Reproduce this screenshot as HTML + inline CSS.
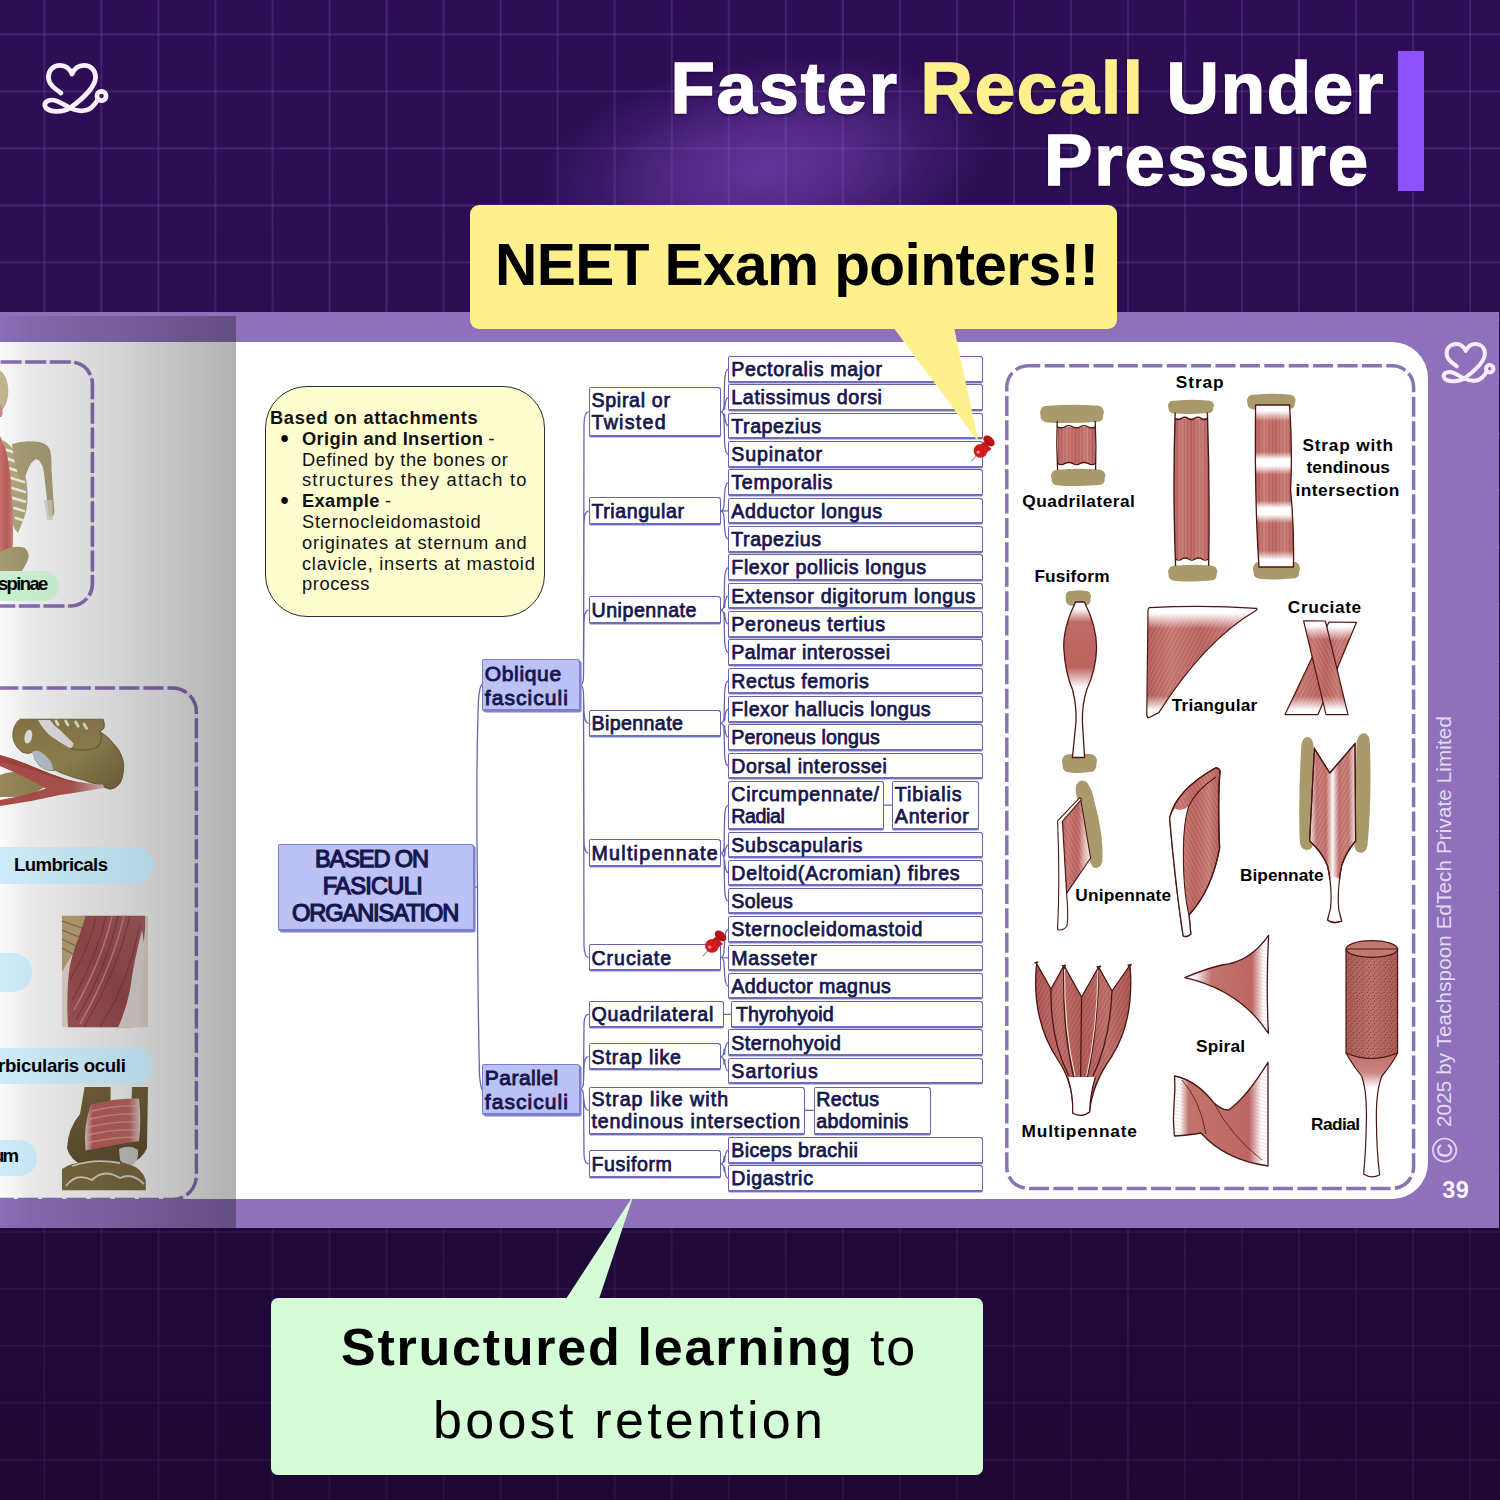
<!DOCTYPE html>
<html lang="en"><head><meta charset="utf-8"><title>Faster Recall Under Pressure</title>
<style>
html,body{margin:0;padding:0}
body{width:1500px;height:1500px;overflow:hidden;position:relative;background:#2c0d52;font-family:"Liberation Sans",sans-serif;font-weight:bold;color:#000}
.a{position:absolute}
.t{position:absolute;white-space:nowrap;line-height:1}
#bg{left:0;top:0;width:1500px;height:1500px;background:linear-gradient(180deg,#2e0d56 0%,#2c0d51 20%,#200939 82%,#1d0834 100%)}
#glow{left:535px;top:58px;width:460px;height:220px;background:radial-gradient(ellipse closest-side,rgba(114,66,174,.74) 0%,rgba(108,60,168,.6) 38%,rgba(98,54,158,.3) 70%,rgba(90,50,150,0) 100%);transform:rotate(-8deg)}
#grid{left:0;top:0;width:1500px;height:1500px;
background-image:linear-gradient(90deg,rgba(140,100,200,.24) 0,rgba(140,100,200,.24) 2px,transparent 2px),linear-gradient(180deg,rgba(140,100,200,.24) 0,rgba(140,100,200,.24) 2px,transparent 2px);
background-size:57.045px 57.03px;background-position:43.4px 33.4px;-webkit-mask-image:linear-gradient(180deg,#000 0%,#000 18%,rgba(0,0,0,.5) 85%,rgba(0,0,0,.45) 100%);mask-image:linear-gradient(180deg,#000 0%,#000 18%,rgba(0,0,0,.5) 85%,rgba(0,0,0,.45) 100%)}
#band{left:0;top:312px;width:1499.2px;height:916.4px;background:#8f70bb}
#page{left:0;top:341.7px;width:1428px;height:857.3px;background:#fff;border-radius:0 36px 36px 0}
#lshade{left:0;top:316px;width:236px;height:912.4px;background:linear-gradient(90deg,rgba(0,0,0,.02) 0%,rgba(0,0,0,.085) 13%,rgba(0,0,0,.15) 42%,rgba(0,0,0,.3) 100%)}
.mb{position:absolute;box-sizing:border-box;border:1.5px solid #6565ab;border-bottom:2px solid #6e6fb8;border-radius:2px 3px 2px 2px;background:#fff;box-shadow:0 .8px 0 rgba(120,122,200,.6)}
.mf{background:#bcc1f6;border-color:#7c7ed0;box-shadow:1.6px 1.6px 0 #7f81d2}
.mt{color:#16164d}
svg{position:absolute;left:0;top:0;overflow:visible}
</style></head>
<body>
<div id="bg" class="a"></div><div id="glow" class="a"></div><div id="grid" class="a"></div>
<!-- sec_header -->
<svg width="1500" height="1500" viewBox="0 0 1500 1500"><g transform="translate(0 0) scale(1)" fill="none" stroke="#faf0ff" stroke-width="4.7" stroke-linecap="round" stroke-linejoin="round"><path d="M61 93 C54 88 48.4 84 48.4 77 C48.4 69.6 54 65.4 60 65.4 C66 65.4 70 69.4 72 74 C74 69.4 78 65.4 84 65.4 C90 65.4 95.6 69.6 95.6 77 C95.6 86 84 98 70 108 C62 113 50 112 46 108 C43 104 46 100 52 100 C58 100 64 105 70 108 C78 112 88 112 93 106 C96 103 97 101 98 99"/><circle cx="101.5" cy="96" r="4.6"/></g></svg>
<div class="t" style="left:670.4px;top:52.3px;font-size:72.6px;color:#fff;letter-spacing:1.72px;-webkit-text-stroke-width:1.5px;text-shadow:0 2px 3px rgba(30,5,60,.8),0 0 3px rgba(30,5,60,.8);">Faster <span style="color:#fff08f">Recall</span> Under</div>
<div class="t" style="left:1043.9px;top:123.5px;font-size:72.6px;color:#fff;letter-spacing:1.93px;-webkit-text-stroke-width:1.5px;text-shadow:0 2px 3px rgba(30,5,60,.8),0 0 3px rgba(30,5,60,.8);">Pressure</div>
<div class="a" style="left:1397.5px;top:50.7px;width:26.6px;height:140.8px;background:#8c52ff"></div>
<!-- sec_page -->
<div id="band" class="a"></div><div id="page" class="a"></div>
<!-- sec_left -->
<svg width="1500" height="1500" viewBox="0 0 1500 1500"><defs>
<linearGradient id="lm1" x1="0" y1="0" x2="1" y2="0"><stop offset="0" stop-color="#cc7470"/><stop offset=".5" stop-color="#ba5c5a"/><stop offset="1" stop-color="#d0827c"/></linearGradient>
<linearGradient id="lm2" x1="1" y1="0" x2="0" y2="1"><stop offset="0" stop-color="#b26466"/><stop offset=".5" stop-color="#9c4c4f"/><stop offset="1" stop-color="#a85a5c"/></linearGradient>
<linearGradient id="lm3" x1="0" y1="0" x2="1" y2="0"><stop offset="0" stop-color="#b04c4a"/><stop offset=".7" stop-color="#b95c58"/><stop offset="1" stop-color="#e6c6c0"/></linearGradient>
<linearGradient id="lm4" x1="0" y1="0" x2="1" y2="0"><stop offset="0" stop-color="#e8d2cc"/><stop offset=".14" stop-color="#c0605e"/><stop offset=".8" stop-color="#c46a66"/><stop offset="1" stop-color="#ead6d0"/></linearGradient>
<linearGradient id="pel" x1="0" y1="0" x2="1" y2="1"><stop offset="0" stop-color="#8a7945"/><stop offset=".55" stop-color="#9d8c59"/><stop offset="1" stop-color="#7d6c3e"/></linearGradient>
<linearGradient id="ank" x1="0" y1="0" x2="0" y2="1"><stop offset="0" stop-color="#7b6741"/><stop offset="1" stop-color="#62502f"/></linearGradient>
<clipPath id="lclip"><rect x="0" y="342" width="236" height="857"/></clipPath>
<clipPath id="mclip"><rect x="62" y="915.6" width="86" height="112"/></clipPath>
<clipPath id="aclip"><rect x="62" y="1087" width="86" height="103.6"/></clipPath>
</defs>
<g clip-path="url(#lclip)"><rect x="-40" y="362" width="132.4" height="244" rx="22" fill="none" stroke="#f3ecfb" stroke-width="3.6" opacity=".8"/>
<rect x="-40" y="362" width="132.4" height="244" rx="22" fill="none" stroke="#8c72b8" stroke-width="3.6" stroke-dasharray="21 3.6" stroke-dashoffset="6"/>
<rect x="-40" y="688" width="236.4" height="511.5" rx="24" fill="none" stroke="#f3ecfb" stroke-width="3.4" opacity=".8"/>
<rect x="-40" y="688" width="236.4" height="511.5" rx="24" fill="none" stroke="#8c72b8" stroke-width="3.4" stroke-dasharray="20 4.2" stroke-dashoffset="10"/>
<ellipse cx="-3.5" cy="391" rx="11.8" ry="21.5" fill="#c2b990"/>
<path d="M0 404 Q4.5 410 1.5 417 L0 417 Z" fill="#d08c88"/>
<path d="M3 440 Q16 448 24 470 Q30 492 26 512 Q22 524 18 533 Q12 528 10 512 Q6 480 3 440 Z" fill="#b5aa7e"/>
<path d="M7 450 l9 3 M8.6 459 l11 4 M10 468.5 l12.6 4 M11 478 l13 4 M12 488 l13 4 M13 498 l12 3.6 M14.4 508 l9.6 3 M16 518 l6 2" stroke="#f6f2e6" stroke-width="2.7" stroke-linecap="round" fill="none"/>
<path d="M12 444 Q22 440.6 34 441.6 Q46 442 49.6 449 Q52 456 51.4 468 Q53 495 54.4 512 Q53 519 49 516 Q46 490 43.6 470 Q41 460 36 459 Q30 462 27 472 Q24 480 21 480 Q15 470 12 444 Z" fill="#ada279"/>
<path d="M44 500 Q46 510 47 520 L52.6 520 Q53 510 52 500 Z" fill="#d9d6c8" opacity=".8"/>
<path d="M0 436 Q7.6 450 10.6 478 Q14 520 12.6 552 L0 554 Z" fill="url(#lm1)"/>
<path d="M0 552 Q14 544 25 548 Q31 554 27 562 Q24 568 22 571 L0 571 Z" fill="#a89d72"/>
<path d="M20 719.2 L103.3 719.2 Q105 724 104 728.3 L100 731.7 Q108 736 113.3 743.3 Q120 750 122.5 758.3 Q124.6 765 123.3 772 Q122.6 779 120 783.3 Q116 789 110 789.2 Q105 788 100 785 Q90 783 83.3 780 Q74 778 66.7 775 Q60 773 55 770 Q48 772 40 766 Q34 760 33 752 Q28 755 22 752 Q15 747 13 738 Q11.6 726 20 719.2 Z" fill="url(#pel)" stroke="#6a5a33" stroke-width=".8"/>
<path d="M38 720 L50 720 Q54 726 60 730 Q68 738 73.6 743.4 Q72.6 748 70 748.3 Q60 743 50 735.6 Q42 728 38 720 Z" fill="#ebebea"/>
<ellipse cx="28.3" cy="736.6" rx="3.8" ry="7" fill="#ebebea" transform="rotate(12 28.3 736.6)"/>
<path d="M56 721 l2 3.6 M65.6 721 l2.4 4 M75.6 722 l2.6 4.4 M84 724 l2.6 4.4" stroke="#f0ede2" stroke-width="2.8" stroke-linecap="round"/>
<path d="M70 748.3 Q85 752 96 748 Q104 742 100 731.7" fill="none" stroke="#6e5e37" stroke-width="1.2" opacity=".8"/>
<path d="M32 752 Q38 748 46 756 Q54 764 53 770 Q46 772 40 766 Q34 760 32 752 Z" fill="#bfc9d4"/>
<path d="M0 775 Q10 771 17 772.5 Q30 777 38 781.7 Q44 785 45 787 Q36 793 25 796.7 L0 797 Z" fill="#9a8a59"/>
<path d="M0 755 Q18 760 33 766.7 Q50 774 66.7 779.4 Q85 784 103 784.6 L104 788 Q80 792 60 795 Q30 802 0 806 L0 800 Q25 796 46 788.6 Q28 778 0 766 Z" fill="url(#lm3)"/>
<path d="M0 755 Q18 760 33 766.7 Q50 774 66.7 779.4 Q80 783 92 784 Q70 782 50 776 Q25 767 0 762 Z" fill="#a54442"/>
<g clip-path="url(#mclip)"><rect x="62" y="915.6" width="86" height="112" fill="#e9ddd2"/><path d="M84 915.6 L145 915.6 Q146 935 141 956 Q134 990 132 1027.6 L68 1027.6 Q66 990 70 965 Q76 940 84 915.6 Z" fill="url(#lm2)"/><path d="M62 915.6 L86 915.6 Q80 935 72 955 Q66 965 62 972 Z" fill="#bfa877"/><path d="M62 921 l20 7 M62 930 l17 7 M62 939 l14 7 M62 948 l11 6" stroke="#8a7446" stroke-width="1.3"/><path d="M142 930 Q134 960 130 990 Q126 1010 118 1027.6 L140 1027.6 Q139 990 145 950 Z" fill="#e9e1df"/><path d="M130 916 Q118 970 84 1027 M118 916 Q108 965 76 1020 M106 916 Q98 955 72 1000 M96 918 Q90 945 70 980 M140 925 Q128 985 100 1027" stroke="#6f2a2e" stroke-width="1" fill="none" opacity=".6"/><path d="M124 916 Q112 968 80 1024 M112 916 Q102 960 74 1010" stroke="#d9a5a2" stroke-width="1.4" fill="none" opacity=".7"/></g>
<g clip-path="url(#aclip)"><path d="M84.6 1087 L110.6 1087 L110.6 1101 L131.6 1099 L132 1087 L148 1087 L147 1148 Q142 1160 130 1163 L84 1166 Q70 1160 67 1148 Q68 1128 80 1114 Z" fill="url(#ank)"/><path d="M91 1104.6 Q115 1098 139 1098.6 Q141.6 1120 139 1141 Q112 1145 85.6 1150.6 Q83 1126 91 1104.6 Z" fill="url(#lm4)"/><path d="M92 1111 Q115 1105 138 1106 M90 1119 Q115 1113 139 1114 M88.6 1127 Q114 1121 139 1122 M87.6 1135 Q112 1129 139 1130 M87 1143 Q112 1137 138 1137" stroke="#e9c4bf" stroke-width="1.3" fill="none" opacity=".6"/><path d="M119 1149 Q130 1144 138 1150 Q139 1160 133 1165 Q124 1167 120 1160 Z" fill="#cfcfcd"/><path d="M62 1169 Q74 1161 90 1163 Q110 1158 128 1164 Q142 1168 145.6 1180 L146 1190.6 L62 1190.6 Z" fill="#7f6c42"/><path d="M66 1186 Q76 1172 92 1180 Q104 1168 120 1178 Q132 1172 144 1184 M72 1166 Q95 1158 120 1163" stroke="#dcd8ca" stroke-width="1.8" fill="none"/></g></g></svg>
<div id="lshade" class="a"></div>
<div class="a" style="left:-40px;top:570.5px;width:98.8px;height:30.8px;border-radius:15.4px;background:linear-gradient(90deg,#caefd1 40%,#c3e8ca 100%)"></div>
<div class="a" style="left:-40px;top:847px;width:194.0px;height:37.0px;border-radius:18.5px;background:linear-gradient(90deg,#cdebf8 21%,#b3d4e3 100%)"></div>
<div class="a" style="left:-40px;top:953.3px;width:71.7px;height:38.4px;border-radius:19.2px;background:linear-gradient(90deg,#cdebf8 56%,#c6e5f2 100%)"></div>
<div class="a" style="left:-40px;top:1048.3px;width:193.3px;height:35.7px;border-radius:17.9px;background:linear-gradient(90deg,#cdebf8 21%,#b3d4e3 100%)"></div>
<div class="a" style="left:-40px;top:1140px;width:76.7px;height:36.0px;border-radius:18.0px;background:linear-gradient(90deg,#cdebf8 52%,#c5e4f1 100%)"></div>
<div class="t" style="left:-2.1px;top:575.3px;font-size:18.5px;letter-spacing:-1.62px;">spinae</div>
<div class="t" style="left:14.0px;top:855.9px;font-size:18.6px;letter-spacing:-0.58px;">Lumbricals</div>
<div class="t" style="left:-2.0px;top:1057.0px;font-size:18.6px;letter-spacing:-0.29px;">rbicularis oculi</div>
<div class="t" style="left:-7.0px;top:1147.3px;font-size:18.6px;letter-spacing:-1.90px;">um</div>
<!-- sec_mindmap -->
<svg width="1500" height="1500" viewBox="0 0 1500 1500"><path d="M473.4 887 L477 887 M477.5 887 C476.5 820 477 740 478.5 700 Q479.5 686 482.3 684 M477.5 887 C477.5 950 478.5 1030 479.5 1075 Q480.5 1088 482.3 1090 M580.2 685 Q583.5 685 583.5 675 L584.0 423.8 Q584.3 411.8 588.6 411.8 M580.2 685 Q583.5 685 583.5 675 L584.0 523.1 Q584.3 511.1 588.6 511.1 M580.2 685 Q583.5 685 583.5 675 L584.0 622.2 Q584.3 610.2 588.6 610.2 M580.2 685 Q583.5 685 583.5 695 L584.0 711.3 Q584.3 723.3 588.6 723.3 M580.2 685 Q583.5 685 583.5 695 L584.0 841.3 Q584.3 853.3 588.6 853.3 M580.2 685 Q583.5 685 583.5 695 L584.0 945.6 Q584.3 957.6 588.6 957.6 M580.2 1089 Q583.5 1089 583.5 1081 L584.0 1024.4 Q584.3 1014.4 588.6 1014.4 M580.2 1089 Q583.5 1089 583.5 1081 L584.0 1066.7 Q584.3 1056.7 588.6 1056.7 M580.2 1089 Q583.5 1089 583.5 1097 L584.0 1100.3 Q584.3 1110.3 588.6 1110.3 M580.2 1089 Q583.5 1089 583.5 1097 L584.0 1153.8 Q584.3 1163.8 588.6 1163.8 M720.6 411.8 Q724.1 411.8 724.1 403.8 L724.6 381.2 Q725.1 369.2 728.6 369.2 M720.6 411.8 Q724.1 411.8 724.1 403.8 L724.6 409.6 Q725.1 397.6 728.6 397.6 M720.6 411.8 Q724.1 411.8 724.1 419.8 L724.6 413.9 Q725.1 425.9 728.6 425.9 M720.6 411.8 Q724.1 411.8 724.1 419.8 L724.6 442.2 Q725.1 454.2 728.6 454.2 M720.6 511.1 Q724.1 511.1 724.1 503.1 L724.6 494.6 Q725.1 482.6 728.6 482.6 M720.6 511.1 L728.6 510.9 M720.6 511.1 Q724.1 511.1 724.1 519.1 L724.6 527.2 Q725.1 539.2 728.6 539.2 M720.6 610.2 Q724.1 610.2 724.1 602.2 L724.6 579.6 Q725.1 567.6 728.6 567.6 M720.6 610.2 Q724.1 610.2 724.1 602.2 L724.6 607.9 Q725.1 595.9 728.6 595.9 M720.6 610.2 Q724.1 610.2 724.1 618.2 L724.6 612.2 Q725.1 624.2 728.6 624.2 M720.6 610.2 Q724.1 610.2 724.1 618.2 L724.6 640.5 Q725.1 652.5 728.6 652.5 M720.6 723.3 Q724.1 723.3 724.1 715.3 L724.6 692.9 Q725.1 680.9 728.6 680.9 M720.6 723.3 Q724.1 723.3 724.1 715.3 L724.6 721.2 Q725.1 709.2 728.6 709.2 M720.6 723.3 Q724.1 723.3 724.1 731.3 L724.6 725.5 Q725.1 737.5 728.6 737.5 M720.6 723.3 Q724.1 723.3 724.1 731.3 L724.6 753.9 Q725.1 765.9 728.6 765.9 M720.6 853.3 Q724.1 853.3 724.1 845.3 L724.6 817.2 Q725.1 805.2 728.6 805.2 M720.6 853.3 Q724.1 853.3 724.1 845.3 L724.6 856.8 Q725.1 844.8 728.6 844.8 M720.6 853.3 Q724.1 853.3 724.1 861.3 L724.6 860.9 Q725.1 872.9 728.6 872.9 M720.6 853.3 Q724.1 853.3 724.1 861.3 L724.6 889.1 Q725.1 901.1 728.6 901.1 M720.6 957.6 Q724.1 957.6 724.1 949.6 L724.6 941.4 Q725.1 929.4 728.6 929.4 M720.6 957.6 L728.6 957.8 M720.6 957.6 Q724.1 957.6 724.1 965.6 L724.6 974.0 Q725.1 986.0 728.6 986.0 M723.2 1014.4 L731.6 1014.4 M720.6 1056.7 Q724.1 1056.7 724.1 1048.7 L724.6 1054.6 Q725.1 1042.6 728.6 1042.6 M720.6 1056.7 Q724.1 1056.7 724.1 1064.7 L724.6 1059.0 Q725.1 1071.0 728.6 1071.0 M720.6 1163.8 Q724.1 1163.8 724.1 1155.8 L724.6 1162.2 Q725.1 1150.2 728.6 1150.2 M720.6 1163.8 Q724.1 1163.8 724.1 1171.8 L724.6 1166.5 Q725.1 1178.5 728.6 1178.5 M883.4 805.2 L891.9 805.2 M805 1110.3 L813.8 1110.3" fill="none" stroke="#6767ad" stroke-width="1.3"/></svg>
<div class="mb" style="left:727.8px;top:356.0px;width:255.0px;height:26.5px"></div>
<div class="t" style="left:731.3px;top:360.1px;font-size:19.6px;letter-spacing:0.68px;font-weight:normal;color:#16164d;-webkit-text-stroke:0.75px #16164d;">Pectoralis major</div>
<div class="mb" style="left:727.8px;top:384.3px;width:255.0px;height:26.5px"></div>
<div class="t" style="left:731.3px;top:388.4px;font-size:19.6px;letter-spacing:0.68px;font-weight:normal;color:#16164d;-webkit-text-stroke:0.75px #16164d;">Latissimus dorsi</div>
<div class="mb" style="left:727.8px;top:412.7px;width:255.0px;height:26.5px"></div>
<div class="t" style="left:731.3px;top:416.8px;font-size:19.6px;letter-spacing:0.55px;font-weight:normal;color:#16164d;-webkit-text-stroke:0.75px #16164d;">Trapezius</div>
<div class="mb" style="left:727.8px;top:441.0px;width:255.0px;height:26.5px"></div>
<div class="t" style="left:731.3px;top:445.1px;font-size:19.6px;letter-spacing:0.85px;font-weight:normal;color:#16164d;-webkit-text-stroke:0.75px #16164d;">Supinator</div>
<div class="mb" style="left:727.8px;top:469.3px;width:255.0px;height:26.5px"></div>
<div class="t" style="left:731.3px;top:473.4px;font-size:19.6px;letter-spacing:0.71px;font-weight:normal;color:#16164d;-webkit-text-stroke:0.75px #16164d;">Temporalis</div>
<div class="mb" style="left:727.8px;top:497.6px;width:255.0px;height:26.5px"></div>
<div class="t" style="left:731.3px;top:501.8px;font-size:19.6px;letter-spacing:0.65px;font-weight:normal;color:#16164d;-webkit-text-stroke:0.75px #16164d;">Adductor longus</div>
<div class="mb" style="left:727.8px;top:526.0px;width:255.0px;height:26.5px"></div>
<div class="t" style="left:731.3px;top:530.1px;font-size:19.6px;letter-spacing:0.55px;font-weight:normal;color:#16164d;-webkit-text-stroke:0.75px #16164d;">Trapezius</div>
<div class="mb" style="left:727.8px;top:554.3px;width:255.0px;height:26.5px"></div>
<div class="t" style="left:731.3px;top:558.4px;font-size:19.6px;letter-spacing:0.61px;font-weight:normal;color:#16164d;-webkit-text-stroke:0.75px #16164d;">Flexor pollicis longus</div>
<div class="mb" style="left:727.8px;top:582.6px;width:255.0px;height:26.5px"></div>
<div class="t" style="left:731.3px;top:586.7px;font-size:19.6px;letter-spacing:0.73px;font-weight:normal;color:#16164d;-webkit-text-stroke:0.75px #16164d;">Extensor digitorum longus</div>
<div class="mb" style="left:727.8px;top:611.0px;width:255.0px;height:26.5px"></div>
<div class="t" style="left:731.3px;top:615.1px;font-size:19.6px;letter-spacing:0.73px;font-weight:normal;color:#16164d;-webkit-text-stroke:0.75px #16164d;">Peroneus tertius</div>
<div class="mb" style="left:727.8px;top:639.3px;width:255.0px;height:26.5px"></div>
<div class="t" style="left:731.3px;top:643.4px;font-size:19.6px;letter-spacing:0.46px;font-weight:normal;color:#16164d;-webkit-text-stroke:0.75px #16164d;">Palmar interossei</div>
<div class="mb" style="left:727.8px;top:667.6px;width:255.0px;height:26.5px"></div>
<div class="t" style="left:731.3px;top:671.7px;font-size:19.6px;letter-spacing:0.52px;font-weight:normal;color:#16164d;-webkit-text-stroke:0.75px #16164d;">Rectus femoris</div>
<div class="mb" style="left:727.8px;top:696.0px;width:255.0px;height:26.5px"></div>
<div class="t" style="left:731.3px;top:700.1px;font-size:19.6px;letter-spacing:0.52px;font-weight:normal;color:#16164d;-webkit-text-stroke:0.75px #16164d;">Flexor hallucis longus</div>
<div class="mb" style="left:727.8px;top:724.3px;width:255.0px;height:26.5px"></div>
<div class="t" style="left:731.3px;top:728.4px;font-size:19.6px;letter-spacing:0.10px;font-weight:normal;color:#16164d;-webkit-text-stroke:0.75px #16164d;">Peroneus longus</div>
<div class="mb" style="left:727.8px;top:752.6px;width:255.0px;height:26.5px"></div>
<div class="t" style="left:731.3px;top:756.7px;font-size:19.6px;letter-spacing:0.61px;font-weight:normal;color:#16164d;-webkit-text-stroke:0.75px #16164d;">Dorsal interossei</div>
<div class="mb" style="left:727.8px;top:780.8px;width:155.8px;height:48.8px"></div>
<div class="t" style="left:731.3px;top:784.7px;font-size:19.6px;letter-spacing:0.72px;font-weight:normal;color:#16164d;-webkit-text-stroke:0.75px #16164d;">Circumpennate/</div>
<div class="t" style="left:731.3px;top:806.6px;font-size:19.6px;letter-spacing:-0.41px;font-weight:normal;color:#16164d;-webkit-text-stroke:0.75px #16164d;">Radial</div>
<div class="mb" style="left:891.7px;top:780.8px;width:87.3px;height:48.8px"></div>
<div class="t" style="left:894.8px;top:784.7px;font-size:19.6px;letter-spacing:0.92px;font-weight:normal;color:#16164d;-webkit-text-stroke:0.75px #16164d;">Tibialis</div>
<div class="t" style="left:894.8px;top:806.6px;font-size:19.6px;letter-spacing:0.78px;font-weight:normal;color:#16164d;-webkit-text-stroke:0.75px #16164d;">Anterior</div>
<div class="mb" style="left:727.8px;top:831.5px;width:255.0px;height:26.5px"></div>
<div class="t" style="left:731.3px;top:835.6px;font-size:19.6px;letter-spacing:0.67px;font-weight:normal;color:#16164d;-webkit-text-stroke:0.75px #16164d;">Subscapularis</div>
<div class="mb" style="left:727.8px;top:859.7px;width:255.0px;height:26.5px"></div>
<div class="t" style="left:731.3px;top:863.8px;font-size:19.6px;letter-spacing:0.79px;font-weight:normal;color:#16164d;-webkit-text-stroke:0.75px #16164d;">Deltoid(Acromian) fibres</div>
<div class="mb" style="left:727.8px;top:887.9px;width:255.0px;height:26.5px"></div>
<div class="t" style="left:731.3px;top:892.0px;font-size:19.6px;letter-spacing:0.33px;font-weight:normal;color:#16164d;-webkit-text-stroke:0.75px #16164d;">Soleus</div>
<div class="mb" style="left:727.8px;top:916.2px;width:255.0px;height:26.5px"></div>
<div class="t" style="left:731.3px;top:920.3px;font-size:19.6px;letter-spacing:0.75px;font-weight:normal;color:#16164d;-webkit-text-stroke:0.75px #16164d;">Sternocleidomastoid</div>
<div class="mb" style="left:727.8px;top:944.5px;width:255.0px;height:26.5px"></div>
<div class="t" style="left:731.3px;top:948.6px;font-size:19.6px;letter-spacing:0.69px;font-weight:normal;color:#16164d;-webkit-text-stroke:0.75px #16164d;">Masseter</div>
<div class="mb" style="left:727.8px;top:972.8px;width:255.0px;height:26.5px"></div>
<div class="t" style="left:731.3px;top:976.9px;font-size:19.6px;letter-spacing:0.43px;font-weight:normal;color:#16164d;-webkit-text-stroke:0.75px #16164d;">Adductor magnus</div>
<div class="mb" style="left:731.0px;top:1001.1px;width:251.8px;height:26.5px"></div>
<div class="t" style="left:736.0px;top:1005.2px;font-size:19.6px;letter-spacing:0.07px;font-weight:normal;color:#16164d;-webkit-text-stroke:0.75px #16164d;">Thyrohyoid</div>
<div class="mb" style="left:727.8px;top:1029.4px;width:255.0px;height:26.5px"></div>
<div class="t" style="left:731.3px;top:1033.5px;font-size:19.6px;letter-spacing:0.50px;font-weight:normal;color:#16164d;-webkit-text-stroke:0.75px #16164d;">Sternohyoid</div>
<div class="mb" style="left:727.8px;top:1057.7px;width:255.0px;height:26.5px"></div>
<div class="t" style="left:731.3px;top:1061.8px;font-size:19.6px;letter-spacing:1.01px;font-weight:normal;color:#16164d;-webkit-text-stroke:0.75px #16164d;">Sartorius</div>
<div class="mb" style="left:727.8px;top:1137.0px;width:255.0px;height:26.5px"></div>
<div class="t" style="left:731.3px;top:1141.1px;font-size:19.6px;letter-spacing:0.35px;font-weight:normal;color:#16164d;-webkit-text-stroke:0.75px #16164d;">Biceps brachii</div>
<div class="mb" style="left:727.8px;top:1165.3px;width:255.0px;height:26.5px"></div>
<div class="t" style="left:731.3px;top:1169.4px;font-size:19.6px;letter-spacing:0.68px;font-weight:normal;color:#16164d;-webkit-text-stroke:0.75px #16164d;">Digastric</div>
<div class="mb" style="left:588.6px;top:1086.6px;width:216.8px;height:48.0px"></div>
<div class="t" style="left:591.5px;top:1089.8px;font-size:19.6px;letter-spacing:1.04px;font-weight:normal;color:#16164d;-webkit-text-stroke:0.75px #16164d;">Strap like with</div>
<div class="t" style="left:591.5px;top:1111.7px;font-size:19.6px;letter-spacing:0.86px;font-weight:normal;color:#16164d;-webkit-text-stroke:0.75px #16164d;">tendinous intersection</div>
<div class="mb" style="left:813.6px;top:1086.6px;width:117.8px;height:48.0px"></div>
<div class="t" style="left:816.3px;top:1089.8px;font-size:19.6px;letter-spacing:0.34px;font-weight:normal;color:#16164d;-webkit-text-stroke:0.75px #16164d;">Rectus</div>
<div class="t" style="left:816.3px;top:1111.7px;font-size:19.6px;letter-spacing:0.35px;font-weight:normal;color:#16164d;-webkit-text-stroke:0.75px #16164d;">abdominis</div>
<div class="mb" style="left:588.6px;top:387.2px;width:132.0px;height:49.4px"></div>
<div class="t" style="left:591.5px;top:390.9px;font-size:19.6px;letter-spacing:0.69px;font-weight:normal;color:#16164d;-webkit-text-stroke:0.75px #16164d;">Spiral or</div>
<div class="t" style="left:591.5px;top:412.9px;font-size:19.6px;letter-spacing:1.28px;font-weight:normal;color:#16164d;-webkit-text-stroke:0.75px #16164d;">Twisted</div>
<div class="mb" style="left:588.6px;top:497.4px;width:132.0px;height:27.4px"></div>
<div class="t" style="left:591.5px;top:502.1px;font-size:19.6px;letter-spacing:0.55px;font-weight:normal;color:#16164d;-webkit-text-stroke:0.75px #16164d;">Triangular</div>
<div class="mb" style="left:588.6px;top:596.4px;width:132.0px;height:27.6px"></div>
<div class="t" style="left:591.5px;top:601.1px;font-size:19.6px;letter-spacing:0.52px;font-weight:normal;color:#16164d;-webkit-text-stroke:0.75px #16164d;">Unipennate</div>
<div class="mb" style="left:588.6px;top:709.7px;width:132.0px;height:27.3px"></div>
<div class="t" style="left:591.5px;top:714.4px;font-size:19.6px;letter-spacing:0.39px;font-weight:normal;color:#16164d;-webkit-text-stroke:0.75px #16164d;">Bipennate</div>
<div class="mb" style="left:588.6px;top:839.4px;width:132.0px;height:27.9px"></div>
<div class="t" style="left:591.5px;top:844.1px;font-size:19.6px;letter-spacing:1.27px;font-weight:normal;color:#16164d;-webkit-text-stroke:0.75px #16164d;">Multipennate</div>
<div class="mb" style="left:588.6px;top:943.8px;width:132.0px;height:27.7px"></div>
<div class="t" style="left:591.5px;top:948.5px;font-size:19.6px;letter-spacing:0.95px;font-weight:normal;color:#16164d;-webkit-text-stroke:0.75px #16164d;">Cruciate</div>
<div class="mb" style="left:588.6px;top:1000.7px;width:135.2px;height:27.4px"></div>
<div class="t" style="left:591.5px;top:1005.4px;font-size:19.6px;letter-spacing:0.80px;font-weight:normal;color:#16164d;-webkit-text-stroke:0.75px #16164d;">Quadrilateral</div>
<div class="mb" style="left:588.6px;top:1042.9px;width:132.0px;height:27.6px"></div>
<div class="t" style="left:591.5px;top:1047.6px;font-size:19.6px;letter-spacing:0.87px;font-weight:normal;color:#16164d;-webkit-text-stroke:0.75px #16164d;">Strap like</div>
<div class="mb" style="left:588.6px;top:1149.9px;width:132.0px;height:27.7px"></div>
<div class="t" style="left:591.5px;top:1154.6px;font-size:19.6px;letter-spacing:0.60px;font-weight:normal;color:#16164d;-webkit-text-stroke:0.75px #16164d;">Fusiform</div>
<div class="mb mf" style="left:482.3px;top:659.3px;width:97.9px;height:51.3px"></div>
<div class="t" style="left:484.8px;top:663.0px;font-size:21.0px;letter-spacing:0.65px;font-weight:normal;color:#16164d;-webkit-text-stroke:0.9px #16164d;">Oblique</div>
<div class="t" style="left:484.8px;top:686.7px;font-size:21.0px;letter-spacing:1.06px;font-weight:normal;color:#16164d;-webkit-text-stroke:0.9px #16164d;">fasciculi</div>
<div class="mb mf" style="left:482.3px;top:1063.6px;width:97.9px;height:51.4px"></div>
<div class="t" style="left:484.8px;top:1067.3px;font-size:21.0px;letter-spacing:0.48px;font-weight:normal;color:#16164d;-webkit-text-stroke:0.9px #16164d;">Parallel</div>
<div class="t" style="left:484.8px;top:1091.0px;font-size:21.0px;letter-spacing:1.06px;font-weight:normal;color:#16164d;-webkit-text-stroke:0.9px #16164d;">fasciculi</div>
<div class="mb mf" style="left:278.3px;top:844.0px;width:195.7px;height:86.6px"></div>
<div class="t" style="left:315.0px;top:848.3px;font-size:23.6px;letter-spacing:-1.14px;font-weight:normal;color:#16164d;-webkit-text-stroke:1.25px #16164d;">BASED ON</div>
<div class="t" style="left:322.7px;top:875.3px;font-size:23.6px;letter-spacing:-0.70px;font-weight:normal;color:#16164d;-webkit-text-stroke:1.25px #16164d;">FASICULI</div>
<div class="t" style="left:292.0px;top:902.3px;font-size:23.6px;letter-spacing:-1.08px;font-weight:normal;color:#16164d;-webkit-text-stroke:1.25px #16164d;">ORGANISATION</div>
<div class="a" style="left:264.6px;top:385.6px;width:280.4px;height:231.8px;box-sizing:border-box;background:#fdfdd0;border:1.6px solid #2b2b2b;border-radius:42px"></div>
<div class="t" style="left:270.0px;top:409.0px;font-size:18.3px;letter-spacing:0.67px;color:#111;">Based on attachments</div>
<div class="t" style="left:302.0px;top:429.8px;font-size:18.3px;letter-spacing:0.38px;color:#111;">Origin and Insertion</div>
<div class="t" style="left:488.5px;top:429.8px;font-size:18.3px;font-weight:normal;color:#111;">-</div>
<div class="t" style="left:302.0px;top:450.6px;font-size:18.3px;letter-spacing:0.53px;font-weight:normal;color:#111;">Defined by the bones or</div>
<div class="t" style="left:302.0px;top:471.4px;font-size:18.3px;letter-spacing:1.22px;font-weight:normal;color:#111;">structures they attach to</div>
<div class="t" style="left:302.0px;top:492.2px;font-size:18.3px;letter-spacing:0.37px;color:#111;">Example</div>
<div class="t" style="left:385.0px;top:492.2px;font-size:18.3px;font-weight:normal;color:#111;">-</div>
<div class="t" style="left:302.0px;top:513.0px;font-size:18.3px;letter-spacing:0.73px;font-weight:normal;color:#111;">Sternocleidomastoid</div>
<div class="t" style="left:302.0px;top:533.8px;font-size:18.3px;letter-spacing:0.77px;font-weight:normal;color:#111;">originates at sternum and</div>
<div class="t" style="left:302.0px;top:554.6px;font-size:18.3px;letter-spacing:0.72px;font-weight:normal;color:#111;">clavicle, inserts at mastoid</div>
<div class="t" style="left:302.0px;top:575.4px;font-size:18.3px;letter-spacing:0.57px;font-weight:normal;color:#111;">process</div>
<div class="t" style="left:280.5px;top:427.5px;font-size:23.0px;">•</div>
<div class="t" style="left:280.5px;top:489.9px;font-size:23.0px;">•</div>
<!-- sec_right -->
<svg width="1500" height="1500" viewBox="0 0 1500 1500"><defs>
<linearGradient id="mv" x1="0" y1="0" x2="1" y2="0"><stop offset="0" stop-color="#b45c58"/><stop offset=".22" stop-color="#c97c76"/><stop offset=".5" stop-color="#bb635f"/><stop offset=".78" stop-color="#cb807a"/><stop offset="1" stop-color="#b15955"/></linearGradient>
<pattern id="stv" width="3.4" height="8" patternUnits="userSpaceOnUse"><path d="M1 0 V8" stroke="#8e3c3a" stroke-width=".55" opacity=".5"/><path d="M2.7 0 V8" stroke="#e9b9b3" stroke-width=".5" opacity=".45"/></pattern>
<pattern id="std" width="3.6" height="3.6" patternUnits="userSpaceOnUse" patternTransform="rotate(28)"><path d="M1 0 V3.6" stroke="#8e3c3a" stroke-width=".55" opacity=".5"/><path d="M2.8 0 V3.6" stroke="#e9b9b3" stroke-width=".5" opacity=".4"/></pattern>
<pattern id="ste" width="3.6" height="3.6" patternUnits="userSpaceOnUse" patternTransform="rotate(-28)"><path d="M1 0 V3.6" stroke="#8e3c3a" stroke-width=".55" opacity=".5"/><path d="M2.8 0 V3.6" stroke="#e9b9b3" stroke-width=".5" opacity=".4"/></pattern>
<pattern id="sth" width="8" height="3.4" patternUnits="userSpaceOnUse" patternTransform="rotate(14)"><path d="M0 1 H8" stroke="#a85a56" stroke-width=".5" opacity=".38"/></pattern>
<linearGradient id="tend" x1="0" y1="0" x2="0" y2="1"><stop offset="0" stop-color="#fff"/><stop offset=".035" stop-color="#fff"/><stop offset=".1" stop-color="#fff" stop-opacity="0"/><stop offset=".29" stop-color="#fff" stop-opacity="0"/><stop offset=".335" stop-color="#fff"/><stop offset=".375" stop-color="#fff"/><stop offset=".43" stop-color="#fff" stop-opacity="0"/><stop offset=".59" stop-color="#fff" stop-opacity="0"/><stop offset=".635" stop-color="#fff"/><stop offset=".675" stop-color="#fff"/><stop offset=".73" stop-color="#fff" stop-opacity="0"/><stop offset=".9" stop-color="#fff" stop-opacity="0"/><stop offset=".955" stop-color="#fff"/><stop offset="1" stop-color="#fff"/></linearGradient>
<linearGradient id="fusi" x1="0" y1="0" x2="0" y2="1"><stop offset="0" stop-color="#fff"/><stop offset=".04" stop-color="#fff"/><stop offset=".13" stop-color="#bf6b67"/><stop offset=".42" stop-color="#bb635f"/><stop offset=".55" stop-color="#fff"/><stop offset="1" stop-color="#fff"/></linearGradient>
<linearGradient id="triB" x1="0" y1="0" x2="0" y2="1"><stop offset="0" stop-color="#fff"/><stop offset=".06" stop-color="#fff"/><stop offset=".2" stop-color="#fff" stop-opacity="0"/><stop offset=".8" stop-color="#fff" stop-opacity="0"/><stop offset=".93" stop-color="#fff"/><stop offset="1" stop-color="#fff"/></linearGradient>
<linearGradient id="cruB" x1="0" y1="0" x2="0" y2="1"><stop offset="0" stop-color="#fff"/><stop offset=".05" stop-color="#fff"/><stop offset=".2" stop-color="#fff" stop-opacity="0"/><stop offset=".8" stop-color="#fff" stop-opacity="0"/><stop offset=".95" stop-color="#fff"/><stop offset="1" stop-color="#fff"/></linearGradient>
<linearGradient id="bipB" x1="0" y1="0" x2="1" y2="0"><stop offset="0" stop-color="#fff" stop-opacity=".9"/><stop offset=".16" stop-color="#fff" stop-opacity="0"/><stop offset=".36" stop-color="#fff" stop-opacity="0"/><stop offset=".5" stop-color="#fff" stop-opacity=".95"/><stop offset=".64" stop-color="#fff" stop-opacity="0"/><stop offset=".84" stop-color="#fff" stop-opacity="0"/><stop offset="1" stop-color="#fff" stop-opacity=".9"/></linearGradient>
<linearGradient id="uniB" x1="0" y1="0" x2="1" y2="0"><stop offset="0" stop-color="#fff" stop-opacity="0"/><stop offset=".6" stop-color="#fff" stop-opacity="0"/><stop offset="1" stop-color="#fff" stop-opacity=".95"/></linearGradient>
<linearGradient id="spr" x1="0" y1="0" x2="1" y2="0"><stop offset="0" stop-color="#fff"/><stop offset=".12" stop-color="#fff"/><stop offset=".32" stop-color="#c4746f"/><stop offset=".8" stop-color="#bd6763"/><stop offset=".94" stop-color="#fff"/><stop offset="1" stop-color="#fff"/></linearGradient>
<linearGradient id="twi" x1="0" y1="0" x2="1" y2="0"><stop offset="0" stop-color="#fff"/><stop offset=".07" stop-color="#fff"/><stop offset=".16" stop-color="#c4746f"/><stop offset=".8" stop-color="#bd6763"/><stop offset=".93" stop-color="#fff"/><stop offset="1" stop-color="#fff"/></linearGradient>
<linearGradient id="mvd" x1="0" y1="0" x2="1" y2="0"><stop offset="0" stop-color="#a9524f"/><stop offset=".25" stop-color="#bd6c67"/><stop offset=".5" stop-color="#ad5652"/><stop offset=".75" stop-color="#bf6f6a"/><stop offset="1" stop-color="#a6504c"/></linearGradient>
<linearGradient id="rad" x1="0" y1="0" x2="1" y2="0"><stop offset="0" stop-color="#ad5d57"/><stop offset=".5" stop-color="#c0756d"/><stop offset="1" stop-color="#ad5d57"/></linearGradient>
<linearGradient id="funn" x1="0" y1="0" x2="0" y2="1"><stop offset="0" stop-color="#bf6f69"/><stop offset=".55" stop-color="#c98680"/><stop offset="1" stop-color="#fff"/></linearGradient>
<pattern id="dots" width="5.6" height="5.6" patternUnits="userSpaceOnUse"><circle cx="1" cy="1.2" r=".6" fill="#5f1f1c"/><circle cx="4.2" cy="2.3" r=".55" fill="#5f1f1c"/><circle cx="2.4" cy="4.4" r=".6" fill="#5f1f1c"/><circle cx="5.6" cy="5.5" r=".5" fill="#5f1f1c"/><circle cx="0.4" cy="5.9" r=".45" fill="#5f1f1c"/></pattern>
</defs>
<rect x="1006.8" y="365.8" width="406.8" height="822.6" rx="21.5" ry="21.5" fill="none" stroke="#8a73b4" stroke-width="3.5" stroke-dasharray="20 4.4" stroke-dashoffset="8"/>
<path d="M1048.5 405.8 Q1072.0 403.8 1095.5 405.4 Q1104.0 405.0 1104.0 413.5 L1103.2 414.0 Q1104.0 422.5 1095.5 422.0 Q1072.0 423.8 1048.5 422.5 Q1040.0 422.5 1040.4 414.0 L1040.0 413.5 Q1040.0 405.0 1048.5 405.8 Z" fill="#a99a6c"/>
<path d="M1059.0 469.8 Q1078.2 467.8 1097.5 469.4 Q1105.5 469.0 1105.5 477.0 L1104.7 477.5 Q1105.5 485.5 1097.5 485.0 Q1078.2 486.8 1059.0 485.5 Q1051.0 485.5 1051.4 477.5 L1051.0 477.0 Q1051.0 469.0 1059.0 469.8 Z" fill="#a99a6c"/>
<rect x="1058" y="427" width="37" height="36.5" fill="url(#mv)"/><rect x="1058" y="427" width="37" height="36.5" fill="url(#stv)"/>
<path d="M1057.2 421 Q1056.2 445 1057.6 470 M1095.2 421 Q1096.4 445 1095.6 470 M1057.4 426.8 Q1061.2 429.0 1065.0 426.8 Q1068.8 424.6 1072.6 426.8 Q1076.4 429.0 1080.2 426.8 Q1084.0 424.6 1087.8 426.8 Q1091.6 429.0 1095.4 426.8 M1057.4 463.4 Q1061.2 465.6 1065.0 463.4 Q1068.9 461.2 1072.7 463.4 Q1076.5 465.6 1080.3 463.4 Q1084.1 461.2 1088.0 463.4 Q1091.8 465.6 1095.6 463.4" fill="none" stroke="#4b1714" stroke-width="1.3"/>
<path d="M1174.5 400.7 Q1191.0 398.9 1207.5 400.4 Q1214.0 400.0 1214.0 406.5 L1213.3 407.0 Q1214.0 413.5 1207.5 413.1 Q1191.0 414.6 1174.5 413.5 Q1168.0 413.5 1168.3 407.0 L1168.0 406.5 Q1168.0 400.0 1174.5 400.7 Z" fill="#a99a6c"/>
<path d="M1176.0 565.8 Q1192.8 563.8 1209.5 565.4 Q1217.5 565.0 1217.5 573.0 L1216.7 573.0 Q1217.5 581.0 1209.5 580.5 Q1192.8 582.3 1176.0 581.0 Q1168.0 581.0 1168.4 573.0 L1168.0 573.0 Q1168.0 565.0 1176.0 565.8 Z" fill="#a99a6c"/>
<path d="M1175 418.5 L1207.6 418.5 Q1209.6 490 1208.4 559 L1175.4 559 Q1173 490 1175 418.5 Z" fill="url(#mv)"/><path d="M1175 418.5 L1207.6 418.5 Q1209.6 490 1208.4 559 L1175.4 559 Q1173 490 1175 418.5 Z" fill="url(#stv)"/>
<path d="M1175.2 412.5 Q1172.6 490 1175.6 566 M1207.4 412.5 Q1210 490 1208.6 566 M1175.0 418.4 Q1178.3 420.6 1181.5 418.4 Q1184.8 416.2 1188.0 418.4 Q1191.3 420.6 1194.6 418.4 Q1197.8 416.2 1201.1 418.4 Q1204.3 420.6 1207.6 418.4 M1175.4 559.0 Q1178.7 561.2 1182.0 559.0 Q1185.3 556.8 1188.6 559.0 Q1191.9 561.2 1195.2 559.0 Q1198.5 556.8 1201.8 559.0 Q1205.1 561.2 1208.4 559.0" fill="none" stroke="#4b1714" stroke-width="1.4"/>
<path d="M1254.5 394.8 Q1271.3 392.8 1288.1 394.4 Q1295.6 394.0 1295.6 401.5 L1294.8 402.0 Q1295.6 409.5 1288.1 409.0 Q1271.3 410.8 1254.5 409.5 Q1247.0 409.5 1247.4 402.0 L1247.0 401.5 Q1247.0 394.0 1254.5 394.8 Z" fill="#a99a6c"/>
<path d="M1261.5 561.8 Q1276.5 559.8 1291.5 561.4 Q1300.0 561.0 1300.0 569.5 L1299.2 570.5 Q1300.0 579.0 1291.5 578.5 Q1276.5 580.3 1261.5 579.0 Q1253.0 579.0 1253.4 570.5 L1253.0 569.5 Q1253.0 561.0 1261.5 561.8 Z" fill="#a99a6c"/>
<path d="M1255.6 405 L1289.6 405 Q1292.6 450 1290.6 490 Q1294.4 530 1293.4 567 L1259 567 Q1254.4 500 1255.6 405 Z" fill="url(#mv)"/><path d="M1255.6 405 L1289.6 405 Q1292.6 450 1290.6 490 Q1294.4 530 1293.4 567 L1259 567 Q1254.4 500 1255.6 405 Z" fill="url(#stv)"/><path d="M1255.6 405 L1289.6 405 Q1292.6 450 1290.6 490 Q1294.4 530 1293.4 567 L1259 567 Q1254.4 500 1255.6 405 Z" fill="url(#tend)"/><path d="M1255.6 405 L1289.6 405 Q1292.6 450 1290.6 490 Q1294.4 530 1293.4 567 L1259 567 Q1254.4 500 1255.6 405 Z" fill="none" stroke="#4b1714" stroke-width="1.3" stroke-linejoin="round"/>
<path d="M1072.1 591.1 Q1078.3 589.6 1084.5 590.8 Q1091.0 590.5 1091.0 597.0 L1090.4 599.3 Q1091.0 605.8 1084.5 605.4 Q1078.3 606.8 1072.1 605.8 Q1065.6 605.8 1065.9 599.3 L1065.6 597.0 Q1065.6 590.5 1072.1 591.1 Z" fill="#a99a6c"/>
<path d="M1070.5 754.3 Q1079.5 752.3 1088.5 753.9 Q1097.0 753.5 1097.0 762.0 L1096.2 764.0 Q1097.0 772.5 1088.5 772.0 Q1079.5 773.8 1070.5 772.5 Q1062.0 772.5 1062.4 764.0 L1062.0 762.0 Q1062.0 753.5 1070.5 754.3 Z" fill="#a99a6c"/>
<path d="M1075.6 602 Q1063 628 1063.8 648 Q1065 672 1072.6 690 Q1076.6 705 1076 722 L1072.4 757.5 L1084.6 757.5 L1082.4 722 Q1082 705 1086.6 690 Q1096 670 1096.6 648 Q1096.6 626 1084.4 602 Z" fill="url(#fusi)"/><path d="M1075.6 602 Q1063 628 1063.8 648 Q1065 672 1072.6 690 Q1076.6 705 1076 722 L1072.4 757.5 L1084.6 757.5 L1082.4 722 Q1082 705 1086.6 690 Q1096 670 1096.6 648 Q1096.6 626 1084.4 602 Z" fill="none" stroke="#4b1714" stroke-width="1.3" stroke-linejoin="round"/>
<path d="M1149.6 607.6 Q1205 604.6 1256.6 608.4 Q1257.6 609.4 1256 610.4 Q1205 640 1158.8 712.6 L1148.4 718 Q1146.2 716 1146.8 712 Q1147.6 660 1148 610 Q1148.4 607.8 1149.6 607.6 Z" fill="url(#mv)"/><path d="M1149.6 607.6 Q1205 604.6 1256.6 608.4 Q1257.6 609.4 1256 610.4 Q1205 640 1158.8 712.6 L1148.4 718 Q1146.2 716 1146.8 712 Q1147.6 660 1148 610 Q1148.4 607.8 1149.6 607.6 Z" fill="url(#std)"/><path d="M1149.6 607.6 Q1205 604.6 1256.6 608.4 Q1257.6 609.4 1256 610.4 Q1205 640 1158.8 712.6 L1148.4 718 Q1146.2 716 1146.8 712 Q1147.6 660 1148 610 Q1148.4 607.8 1149.6 607.6 Z" fill="url(#triB)"/><path d="M1149.6 607.6 Q1205 604.6 1256.6 608.4 Q1257.6 609.4 1256 610.4 Q1205 640 1158.8 712.6 L1148.4 718 Q1146.2 716 1146.8 712 Q1147.6 660 1148 610 Q1148.4 607.8 1149.6 607.6 Z" fill="none" stroke="#4b1714" stroke-width="1.2" stroke-linejoin="round"/>
<path d="M1329 622 L1356.4 622.4 L1318 714.6 L1285 714.6 Z" fill="url(#mv)"/><path d="M1329 622 L1356.4 622.4 L1318 714.6 L1285 714.6 Z" fill="url(#std)"/><path d="M1329 622 L1356.4 622.4 L1318 714.6 L1285 714.6 Z" fill="url(#cruB)"/><path d="M1329 622 L1356.4 622.4 L1318 714.6 L1285 714.6 Z" fill="none" stroke="#4b1714" stroke-width="1.2" stroke-linejoin="round"/>
<path d="M1303.6 620.8 L1325.4 621 L1348 714.6 L1326 714.6 Z" fill="url(#mv)"/><path d="M1303.6 620.8 L1325.4 621 L1348 714.6 L1326 714.6 Z" fill="url(#ste)"/><path d="M1303.6 620.8 L1325.4 621 L1348 714.6 L1326 714.6 Z" fill="url(#cruB)"/><path d="M1303.6 620.8 L1325.4 621 L1348 714.6 L1326 714.6 Z" fill="none" stroke="#4b1714" stroke-width="1.2" stroke-linejoin="round"/>
<path d="M1301.4 745 Q1303 735.6 1309.6 737.4 Q1314.6 740 1313.4 752 L1313.8 840 Q1313.6 850 1306.6 850 Q1299.6 849.4 1299.6 838 Q1298.4 790 1301.4 745 Z" fill="#a99a6c"/><path d="M1356.6 742 Q1358.6 732.4 1365.4 733.4 Q1370.6 735.6 1370 748 Q1371.8 800 1367.4 846 Q1365.4 854 1359.4 852.6 Q1353.6 851 1354.4 842 Z" fill="#a99a6c"/>
<path d="M1314.4 748.6 L1329.8 773 L1355 743.6 L1355.6 841 Q1346 852 1341.6 866 Q1337 890 1338.8 910 L1341.6 921 Q1334 924.6 1327.6 920 L1330.6 908 Q1332.4 888 1327.6 866 Q1322 852 1309.6 841 Z" fill="url(#mv)"/><path d="M1314.4 748.6 L1329.8 773 L1355 743.6 L1355.6 841 Q1346 852 1341.6 866 Q1337 890 1338.8 910 L1341.6 921 Q1334 924.6 1327.6 920 L1330.6 908 Q1332.4 888 1327.6 866 Q1322 852 1309.6 841 Z" fill="url(#std)"/><path d="M1314.4 748.6 L1329.8 773 L1355 743.6 L1355.6 841 Q1346 852 1341.6 866 Q1337 890 1338.8 910 L1341.6 921 Q1334 924.6 1327.6 920 L1330.6 908 Q1332.4 888 1327.6 866 Q1322 852 1309.6 841 Z" fill="url(#bipB)"/><path d="M1314.4 748.6 L1329.8 773 L1355 743.6 L1355.6 841 Q1346 852 1341.6 866 Q1337 890 1338.8 910 L1341.6 921 Q1334 924.6 1327.6 920 L1330.6 908 Q1332.4 888 1327.6 866 Q1322 852 1309.6 841 Z" fill="none" stroke="#4b1714" stroke-width="1.2" stroke-linejoin="round"/>
<path d="M1329 880 Q1334.6 874 1340.4 880 L1341.4 921 L1328 921 Z" fill="#fff"/>
<path d="M1314.4 748.6 L1329.8 773 L1355 743.6 L1355.6 841 Q1346 852 1341.6 866 Q1337 890 1338.8 910 L1341.6 921 Q1334 924.6 1327.6 920 L1330.6 908 Q1332.4 888 1327.6 866 Q1322 852 1309.6 841 Z" fill="none" stroke="#4b1714" stroke-width="1.2"/>
<path d="M1076.6 784 Q1081.6 778 1087 782.6 Q1092.6 790 1094 800 Q1104 835 1102.4 862 Q1099.6 869.6 1093.4 867.4 Q1089.6 864 1088.6 852 Q1084 820 1077 798 Q1074.6 790 1076.6 784 Z" fill="#a99a6c"/>
<path d="M1061.4 819.6 L1080.6 798.6 L1090.6 858 L1066.6 893.4 Z" fill="url(#mv)"/><path d="M1061.4 819.6 L1080.6 798.6 L1090.6 858 L1066.6 893.4 Z" fill="url(#ste)"/><path d="M1061.4 819.6 L1080.6 798.6 L1090.6 858 L1066.6 893.4 Z" fill="url(#uniB)"/><path d="M1061.4 819.6 L1080.6 798.6 L1090.6 858 L1066.6 893.4 Z" fill="none" stroke="#4b1714" stroke-width="1.1" stroke-linejoin="round"/>
<path d="M1057.6 820.8 L1079.8 797.6 L1081.4 799.4 L1062.4 821.4 Q1064.6 860 1066.6 893.4 Q1068.6 915 1067 926 Q1062.6 931.6 1057.6 929.4 Q1060 880 1057.6 820.8 Z" fill="#fff" stroke="#4b1714" stroke-width="1.1" stroke-linejoin="round"/>
<path d="M1215.4 768 Q1218.6 767.4 1220 771 Q1217.6 800 1219.6 848 Q1212 890 1189 915 L1190.8 934 Q1187 937.6 1183.2 936 Q1176 890 1169.6 818 Q1176 790 1215.4 768 Z" fill="url(#mv)"/><path d="M1215.4 768 Q1218.6 767.4 1220 771 Q1217.6 800 1219.6 848 Q1212 890 1189 915 L1190.8 934 Q1187 937.6 1183.2 936 Q1176 890 1169.6 818 Q1176 790 1215.4 768 Z" fill="url(#ste)"/><path d="M1215.4 768 Q1218.6 767.4 1220 771 Q1217.6 800 1219.6 848 Q1212 890 1189 915 L1190.8 934 Q1187 937.6 1183.2 936 Q1176 890 1169.6 818 Q1176 790 1215.4 768 Z" fill="none" stroke="#4b1714" stroke-width="1.3" stroke-linejoin="round"/>
<path d="M1169.6 818 Q1171.6 812 1175 808.6 Q1181 812 1188.6 806.6 Q1183.6 822 1183.4 850 Q1183 890 1189 915 L1190.8 934 Q1187 937.6 1183.2 936 Q1176 890 1169.6 818 Z" fill="#fff"/>
<path d="M1216 777 Q1196 790 1188.6 806.6 Q1183.6 822 1183.4 850 Q1183 890 1189 915" fill="none" stroke="#4b1714" stroke-width="1.1"/><path d="M1215.4 768 Q1218.6 767.4 1220 771 Q1217.6 800 1219.6 848 Q1212 890 1189 915 L1190.8 934 Q1187 937.6 1183.2 936 Q1176 890 1169.6 818 Q1176 790 1215.4 768 Z" fill="none" stroke="#4b1714" stroke-width="1.3" stroke-linejoin="round"/>
<path d="M1036.6 963.6 L1051 989 L1064 965.6 L1081.6 997 L1098.6 967 L1112 991 L1130 965 Q1134.6 1020 1112 1056 Q1092 1084 1089.6 1112 Q1082 1118 1072.6 1113 Q1074 1084 1058 1060 Q1031 1020 1036.6 963.6 Z" fill="url(#mvd)"/><path d="M1036.6 963.6 L1051 989 L1064 965.6 L1081.6 997 L1098.6 967 L1112 991 L1130 965 Q1134.6 1020 1112 1056 Q1092 1084 1089.6 1112 Q1082 1118 1072.6 1113 Q1074 1084 1058 1060 Q1031 1020 1036.6 963.6 Z" fill="url(#std)"/><path d="M1036.6 963.6 L1051 989 L1064 965.6 L1081.6 997 L1098.6 967 L1112 991 L1130 965 Q1134.6 1020 1112 1056 Q1092 1084 1089.6 1112 Q1082 1118 1072.6 1113 Q1074 1084 1058 1060 Q1031 1020 1036.6 963.6 Z" fill="none" stroke="#4b1714" stroke-width="1.3" stroke-linejoin="round"/>
<path d="M1051 989 Q1050 1040 1069 1076 M1064 965.6 Q1062 1030 1074 1078 M1081.6 997 Q1081 1040 1080.6 1078 M1098.6 967 Q1098 1030 1087 1078 M1112 991 Q1110 1040 1093 1076" fill="none" stroke="#4b1714" stroke-width="1.3"/><path d="M1064.6 969 Q1064 1030 1075 1076 M1098 970 Q1097 1030 1086.6 1076" fill="none" stroke="#fff" stroke-width="1" opacity=".85"/><path d="M1067.6 1077 L1095.4 1077 Q1090 1095 1089.6 1112 Q1082 1118 1072.6 1113 Q1073.6 1095 1067.6 1077 Z" fill="#fff"/><path d="M1067.6 1077 Q1073.6 1095 1072.6 1113 Q1082 1118 1089.6 1112 Q1090 1095 1095.4 1077" fill="none" stroke="#4b1714" stroke-width="1.2"/>
<path d="M1034.6 963 l3.6 -1 M1062 966 l4 -.6 M1096.6 967 l4.4 -.6 M1127.6 965.6 l4 -1" stroke="#4b1714" stroke-width="1.6"/>
<path d="M1184.8 977.6 Q1205 969 1222 965 Q1250 962 1268.6 935.4 Q1266 985 1268.4 1033.4 Q1240 990 1184.8 977.6 Z" fill="url(#spr)"/><path d="M1184.8 977.6 Q1205 969 1222 965 Q1250 962 1268.6 935.4 Q1266 985 1268.4 1033.4 Q1240 990 1184.8 977.6 Z" fill="url(#sth)"/><path d="M1184.8 977.6 Q1205 969 1222 965 Q1250 962 1268.6 935.4 Q1266 985 1268.4 1033.4 Q1240 990 1184.8 977.6 Z" fill="none" stroke="#4b1714" stroke-width="1.3" stroke-linejoin="round"/>
<path d="M1174.6 1076 Q1196 1080 1214 1103 Q1222 1110 1228.6 1110 Q1246 1098 1268 1062.4 L1268 1166 Q1225 1160 1201 1133 Q1190 1135 1174.4 1136 Q1172.6 1120 1174 1105 Q1175.4 1090 1174.6 1076 Z" fill="url(#twi)"/><path d="M1174.6 1076 Q1196 1080 1214 1103 Q1222 1110 1228.6 1110 Q1246 1098 1268 1062.4 L1268 1166 Q1225 1160 1201 1133 Q1190 1135 1174.4 1136 Q1172.6 1120 1174 1105 Q1175.4 1090 1174.6 1076 Z" fill="url(#sth)"/><path d="M1174.6 1076 Q1196 1080 1214 1103 Q1222 1110 1228.6 1110 Q1246 1098 1268 1062.4 L1268 1166 Q1225 1160 1201 1133 Q1190 1135 1174.4 1136 Q1172.6 1120 1174 1105 Q1175.4 1090 1174.6 1076 Z" fill="none" stroke="#4b1714" stroke-width="1.3" stroke-linejoin="round"/>
<path d="M1182 1080 Q1200 1100 1206 1134 M1214 1103 Q1230 1135 1262 1160" fill="none" stroke="#4b1714" stroke-width="1" opacity=".8"/>
<path d="M1346 949 L1346 1053 Q1352 1064 1361.6 1076 Q1367 1090 1366.4 1120 Q1366 1150 1363.6 1174 Q1371 1179 1379.6 1175 Q1376.6 1150 1376.4 1120 Q1376 1090 1382 1076 Q1392 1064 1397.6 1053 L1397.6 949 Z" fill="#fff"/>
<path d="M1346 1053 Q1352 1064 1361.6 1076 Q1364 1081 1365 1088 L1378.4 1088 Q1379.4 1081 1382 1076 Q1392 1064 1397.6 1053 Z" fill="url(#funn)"/>
<path d="M1346 949 L1346 1053 Q1371 1064 1397.6 1053 L1397.6 949 Z" fill="url(#rad)"/><path d="M1346 949 L1346 1053 Q1371 1064 1397.6 1053 L1397.6 949 Z" fill="url(#dots)"/>
<ellipse cx="1371.8" cy="949" rx="25.8" ry="8.4" fill="#c17870" stroke="#4b1714" stroke-width="1.2"/><path d="M1346 1053 Q1371 1064 1397.6 1053" fill="none" stroke="#4b1714" stroke-width="1.1"/><path d="M1346 949 L1346 1053 Q1352 1064 1361.6 1076 Q1367 1090 1366.4 1120 Q1366 1150 1363.6 1174 Q1371 1179 1379.6 1175 Q1376.6 1150 1376.4 1120 Q1376 1090 1382 1076 Q1392 1064 1397.6 1053 L1397.6 949 Z" fill="none" stroke="#4b1714" stroke-width="1.2"/>
<g transform="translate(1407.3 290.8) scale(0.812)" fill="none" stroke="#f6eeff" stroke-width="4.9" stroke-linecap="round" stroke-linejoin="round"><path d="M61 93 C54 88 48.4 84 48.4 77 C48.4 69.6 54 65.4 60 65.4 C66 65.4 70 69.4 72 74 C74 69.4 78 65.4 84 65.4 C90 65.4 95.6 69.6 95.6 77 C95.6 86 84 98 70 108 C62 113 50 112 46 108 C43 104 46 100 52 100 C58 100 64 105 70 108 C78 112 88 112 93 106 C96 103 97 101 98 99"/><circle cx="101.5" cy="96" r="4.6"/></g></svg>
<div class="t" style="left:1175.8px;top:373.6px;font-size:17.3px;letter-spacing:0.92px;">Strap</div>
<div class="t" style="left:1022.3px;top:493.2px;font-size:17.3px;letter-spacing:0.50px;">Quadrilateral</div>
<div class="t" style="left:1302.4px;top:436.7px;font-size:17.3px;letter-spacing:0.80px;">Strap with</div>
<div class="t" style="left:1306.5px;top:459.2px;font-size:17.3px;letter-spacing:0.11px;">tendinous</div>
<div class="t" style="left:1295.4px;top:482.4px;font-size:17.3px;letter-spacing:0.54px;">intersection</div>
<div class="t" style="left:1034.4px;top:568.4px;font-size:17.3px;letter-spacing:0.17px;">Fusiform</div>
<div class="t" style="left:1287.8px;top:598.6px;font-size:17.3px;letter-spacing:0.61px;">Cruciate</div>
<div class="t" style="left:1171.7px;top:696.7px;font-size:17.3px;letter-spacing:0.22px;">Triangular</div>
<div class="t" style="left:1075.3px;top:886.8px;font-size:17.3px;letter-spacing:0.20px;">Unipennate</div>
<div class="t" style="left:1240.0px;top:866.7px;font-size:17.3px;letter-spacing:0.02px;">Bipennate</div>
<div class="t" style="left:1196.0px;top:1037.6px;font-size:17.3px;letter-spacing:0.23px;">Spiral</div>
<div class="t" style="left:1021.6px;top:1122.5px;font-size:17.3px;letter-spacing:0.79px;">Multipennate</div>
<div class="t" style="left:1311.0px;top:1116.3px;font-size:17.3px;letter-spacing:-0.54px;">Radial</div>
<div class="t" style="left:1442.3px;top:1179.1px;font-size:23.5px;letter-spacing:0.36px;color:#fbf5ff;">39</div>
<div class="t" style="left:1434.2px;top:1126.5px;font-size:20.6px;font-weight:normal;color:#e4daf5;transform-origin:0 0;transform:rotate(-90deg);letter-spacing:0.12px">2025 by Teachspoon EdTech Private Limited</div>
<div class="t" style="left:1427.3px;top:1163.2px;font-size:35px;font-weight:normal;color:#e4daf5;transform-origin:0 0;transform:rotate(-90deg)">©</div>
<!-- sec_callouts -->
<svg width="1500" height="1500" viewBox="0 0 1500 1500"><path d="M891.5 325 L953.5 325 L978.4 442 Z" fill="#fef08c"/><path d="M633.4 1195.5 L598 1302 L564 1302 Z" fill="#d5fcd6"/></svg>
<div class="a" style="left:470px;top:205px;width:647px;height:124px;background:#fef08c;border-radius:9px"></div>
<div class="t" style="left:495.0px;top:236.0px;font-size:58.6px;letter-spacing:-0.60px;">NEET Exam pointers!!</div>
<svg width="1500" height="1500" viewBox="0 0 1500 1500"><g transform="translate(983.5 446.5) scale(1)"><path d="M-7 9 L-12 14.5" stroke="#8c8c8c" stroke-width="1.1" stroke-linecap="round"/><path d="M0.5 -5 L8 2.5 L2.5 6.5 L-4 0 Z" fill="#c4161a"/><ellipse cx="5.5" cy="-5.6" rx="6.6" ry="4.4" fill="#bf1216" transform="rotate(42 5.5 -5.6)"/><circle cx="-3" cy="4.3" r="6.9" fill="#cf1b1f"/><circle cx="-5.3" cy="5.6" r="1.7" fill="#ff8d8d"/><path d="M1 -7 Q4 -3 8.5 -1.5" stroke="#8f0a0e" stroke-width="1.6" fill="none" opacity=".6"/></g><g transform="translate(715 941.5) scale(1)"><path d="M-7 9 L-12 14.5" stroke="#8c8c8c" stroke-width="1.1" stroke-linecap="round"/><path d="M0.5 -5 L8 2.5 L2.5 6.5 L-4 0 Z" fill="#c4161a"/><ellipse cx="5.5" cy="-5.6" rx="6.6" ry="4.4" fill="#bf1216" transform="rotate(42 5.5 -5.6)"/><circle cx="-3" cy="4.3" r="6.9" fill="#cf1b1f"/><circle cx="-5.3" cy="5.6" r="1.7" fill="#ff8d8d"/><path d="M1 -7 Q4 -3 8.5 -1.5" stroke="#8f0a0e" stroke-width="1.6" fill="none" opacity=".6"/></g></svg>
<div class="a" style="left:271px;top:1298px;width:712px;height:177px;background:#d5fcd6;border-radius:7px"></div>
<div class="t" style="left:341px;top:1321.0px;font-size:52px;letter-spacing:1.75px">Structured learning <span style="font-weight:normal">to</span></div>
<div class="t" style="left:433.0px;top:1394.0px;font-size:52.0px;letter-spacing:3.28px;font-weight:normal;">boost retention</div>
</body></html>
